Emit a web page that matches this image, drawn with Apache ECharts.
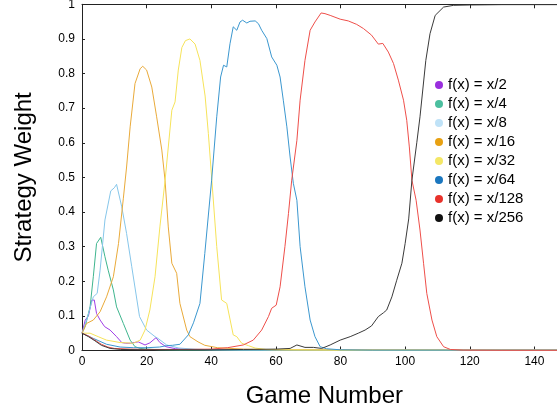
<!DOCTYPE html>
<html>
<head>
<meta charset="utf-8">
<script src="https://cdn.jsdelivr.net/npm/echarts@6/dist/echarts.min.js"></script>
<style>
html,body{margin:0;padding:0;background:#fff;}
#chart{width:557px;height:413px;}
</style>
</head>
<body>
<div id="chart"></div>
<script>
// ---- data ----
const seriesNames = ['f(x) = x/2','f(x) = x/4','f(x) = x/8','f(x) = x/16','f(x) = x/32','f(x) = x/64','f(x) = x/128','f(x) = x/256'];

const x2Games   = [0,1,2,3,3.8,4.5,5.6,7,8.7,10.7,12.3,13.5,15,17.4,19.5,21,22.9,24.1,26,29,33,40,50,60,80,100,120,150];
const x2Weights = [0.05,0.088,0.1,0.145,0.146,0.107,0.088,0.069,0.059,0.04,0.023,0.021,0.021,0.025,0.016,0.022,0.037,0.023,0.011,0.005,0.003,0.002,0.001,0.001,0.001,0.001,0.001,0.001];

const x4Games   = [0,1,2.5,3.5,4.5,5.8,7.1,8.1,9.7,10.7,12.8,14.9,16.4,18,20,24,30,40,60,150];
const x4Weights = [0.05,0.07,0.126,0.213,0.309,0.327,0.271,0.232,0.175,0.126,0.078,0.03,0.011,0.006,0.004,0.002,0.001,0.001,0.0005,0.0005];

const x8Games   = [0,1.5,3.5,4.7,5.6,7.1,8.9,10,10.7,12.3,13.8,15.4,17.8,20,22.6,23.5,26.2,30,35,40,60,150];
const x8Weights = [0.05,0.09,0.155,0.165,0.232,0.377,0.461,0.47,0.48,0.415,0.338,0.242,0.098,0.059,0.04,0.035,0.016,0.007,0.004,0.002,0.001,0.001];

const x16Games   = [0,1.4,3.5,5.6,7.6,9.7,11.3,12.8,13.8,14.9,16.4,18,18.8,20,21.6,23.1,24.7,25.7,26.7,27.8,29.3,30.3,32.4,33.4,35.9,38,42,50,60,150];
const x16Weights = [0.05,0.078,0.088,0.112,0.155,0.213,0.309,0.44,0.53,0.646,0.771,0.814,0.821,0.81,0.761,0.675,0.579,0.492,0.357,0.252,0.223,0.136,0.059,0.04,0.025,0.015,0.008,0.004,0.002,0.001];

const x32Games   = [0,2.5,5,7.6,11.8,15.9,18,19.5,21,22.6,24.1,25.7,27.8,28.8,29.8,30.9,32,33.4,35,36.5,38.1,39.1,40.2,41.7,43.2,44.8,46.8,47.9,49.4,51.5,53.6,57,65,80,150];
const x32Weights = [0.05,0.05,0.04,0.03,0.023,0.021,0.03,0.059,0.117,0.213,0.357,0.49,0.694,0.718,0.81,0.875,0.895,0.9,0.885,0.838,0.735,0.627,0.49,0.3,0.146,0.136,0.045,0.04,0.021,0.014,0.007,0.003,0.002,0.001,0.001];

const x64Games   = [0,3.5,7.6,11.8,16,20,24,26.2,28,30.3,32.9,34.5,36.5,38,40.1,41.7,42.9,43.8,44.8,45.8,46.8,47.9,48.9,49.7,51,52,53.6,54.6,55.6,57.2,58.7,60.3,61.3,62.3,63.4,64.4,65.4,66.5,67.5,69,70.6,72.1,73.7,75.7,80,90,150];
const x64Weights = [0.05,0.035,0.018,0.01,0.008,0.008,0.01,0.014,0.015,0.018,0.045,0.08,0.136,0.28,0.49,0.675,0.79,0.824,0.819,0.886,0.935,0.925,0.949,0.954,0.946,0.951,0.952,0.944,0.925,0.901,0.848,0.824,0.79,0.723,0.646,0.559,0.483,0.434,0.3,0.184,0.088,0.04,0.011,0.005,0.002,0.001,0.001];

const x128Games   = [0,2,4,6,8,10,15,20,30,40,45,49.9,53,55.6,57.7,58.7,60.1,61.3,62.8,63.9,64.9,66.5,67.5,69,70.6,72.1,74,75.2,76.8,79.9,82.4,85,87.1,89.6,91.7,93.1,94.8,96.4,97.9,99.5,100.5,101.3,102.1,103.4,104.6,105.7,106.7,108.3,109.8,111.9,114,118,130,150];
const x128Weights = [0.05,0.042,0.03,0.018,0.01,0.006,0.004,0.003,0.003,0.004,0.008,0.016,0.03,0.059,0.098,0.122,0.131,0.184,0.3,0.396,0.492,0.607,0.723,0.838,0.925,0.949,0.975,0.973,0.968,0.957,0.952,0.942,0.93,0.911,0.885,0.887,0.862,0.829,0.781,0.723,0.665,0.588,0.492,0.434,0.348,0.252,0.165,0.088,0.04,0.011,0.003,0.001,0.0005,0.0005];

const x256Games   = [0,2,4,6,8.7,12,20,30,40,50,60,64.4,66.5,69,71.6,74.2,76.8,79.9,83,85.5,87.6,89.6,91.7,93.3,94.3,95.9,97.4,99,100,101.1,102.1,103.6,104.6,106.4,107.7,109.3,111.9,115,120,130,150];
const x256Weights = [0.05,0.04,0.028,0.015,0.006,0.003,0.002,0.002,0.002,0.003,0.004,0.006,0.016,0.009,0.009,0.006,0.016,0.03,0.04,0.05,0.059,0.071,0.098,0.109,0.117,0.155,0.203,0.252,0.309,0.38,0.492,0.6,0.675,0.838,0.915,0.968,0.992,0.997,0.998,0.999,0.999];

const xTickLabels = ['0','20','40','60','80','100','120','140'];

// ---- styling ----
const lineColors   = ['#a03ee6','#3fb58e','#86c6ea','#e9aa3a','#f6e35a','#3b97cf','#ee4f4a','#3a3a3a'];
const markerColors = ['#9a2fde','#4cbf9f','#bfe2f7','#e8a112','#f4e766','#1b77bf','#e8322b','#111111'];

const allGames   = [x2Games,x4Games,x8Games,x16Games,x32Games,x64Games,x128Games,x256Games];
const allWeights = [x2Weights,x4Weights,x8Weights,x16Weights,x32Weights,x64Weights,x128Weights,x256Weights];

function zip(g, w){ return g.map((v,i)=>[v,w[i]]); }

const FONT = '"Liberation Sans", Arial, Helvetica, sans-serif';

const series = seriesNames.map((name,i)=>({
  name: name,
  type: 'line',
  data: zip(allGames[i], allWeights[i]),
  showSymbol: false,
  symbol: 'circle',
  lineStyle: {color: lineColors[i], width: 1},
  itemStyle: {color: markerColors[i]},
  emphasis: {disabled: true},
  animation: false,
  z: 2
}));

const chart = echarts.init(document.getElementById('chart'), null, {renderer:'canvas'});
chart.setOption({
  animation: false,
  backgroundColor: '#fff',
  textStyle: {fontFamily: FONT},
  grid: {left: 82, right: -9.7, top: 4.3, bottom: 62.5, containLabel: false, outerBoundsMode: 'none'},
  legend: {
    orient: 'vertical',
    left: 430, top: 72,
    icon: 'circle',
    itemWidth: 8, itemHeight: 8,
    itemGap: 3,
    textStyle: {fontSize: 15, color: '#000', fontFamily: FONT, lineHeight: 16},
    data: seriesNames
  },
  xAxis: [{
    type: 'value', min: 0, max: 150, interval: 20,
    position: 'bottom',
    name: 'Game Number', nameLocation: 'middle', nameGap: 34,
    nameTextStyle: {fontSize: 24, color: '#000', fontFamily: FONT},
    axisLine: {show: true, lineStyle: {color: '#222', width: 1.2}},
    axisTick: {show: true, inside: true, length: 4, lineStyle: {color: '#222'}},
    axisLabel: {fontSize: 12, color: '#000', margin: 5,
      formatter: function(v){ const s = String(v); return xTickLabels.indexOf(s) >= 0 ? s : ''; }},
    splitLine: {show: false}
  },{
    type: 'value', min: 0, max: 150, interval: 20,
    position: 'top',
    axisLine: {show: true, lineStyle: {color: '#222', width: 1}},
    axisTick: {show: true, inside: true, length: 4, lineStyle: {color: '#222'}},
    axisLabel: {show: false},
    splitLine: {show: false}
  }],
  yAxis: {
    type: 'value', min: 0, max: 1, interval: 0.1,
    name: 'Strategy Weight', nameLocation: 'middle', nameGap: 46,
    nameTextStyle: {fontSize: 24, color: '#000', fontFamily: FONT},
    axisLine: {show: true, lineStyle: {color: '#222', width: 1}},
    axisTick: {show: true, inside: true, length: 3, lineStyle: {color: '#222'}},
    axisLabel: {fontSize: 12, color: '#000', margin: 7},
    splitLine: {show: false}
  },
  series: series
});
</script>
</body>
</html>
